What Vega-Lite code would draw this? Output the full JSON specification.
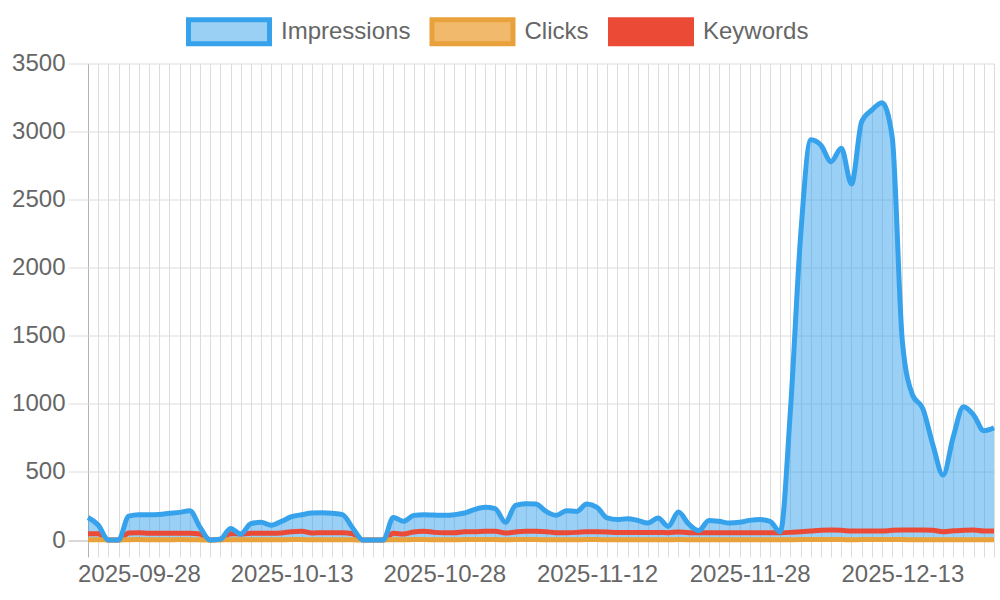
{
  "$schema": "https://vega.github.io/schema/vega-lite/v6.json",
  "width": 906,
  "height": 476.5,
  "autosize": {"type": "none"},
  "padding": {"left": 88, "top": 63.5, "right": 6, "bottom": 60},
  "background": "white",
  "config": {
    "view": {"stroke": null},
    "font": "Liberation Sans"
  },
  "data": {
    "values": [
      {"date": "2025-09-23", "Impressions": 165, "Clicks": 2, "Keywords": 46},
      {"date": "2025-09-24", "Impressions": 110, "Clicks": 2, "Keywords": 46},
      {"date": "2025-09-25", "Impressions": 0, "Clicks": 0, "Keywords": 0},
      {"date": "2025-09-26", "Impressions": 0, "Clicks": 0, "Keywords": 0},
      {"date": "2025-09-27", "Impressions": 175, "Clicks": 2, "Keywords": 51},
      {"date": "2025-09-28", "Impressions": 186, "Clicks": 3, "Keywords": 54},
      {"date": "2025-09-29", "Impressions": 186, "Clicks": 2, "Keywords": 49},
      {"date": "2025-09-30", "Impressions": 188, "Clicks": 2, "Keywords": 49},
      {"date": "2025-10-01", "Impressions": 196, "Clicks": 2, "Keywords": 49},
      {"date": "2025-10-02", "Impressions": 203, "Clicks": 3, "Keywords": 49},
      {"date": "2025-10-03", "Impressions": 215, "Clicks": 2, "Keywords": 49},
      {"date": "2025-10-04", "Impressions": 95, "Clicks": 1, "Keywords": 44},
      {"date": "2025-10-05", "Impressions": 0, "Clicks": 0, "Keywords": 0},
      {"date": "2025-10-06", "Impressions": 5, "Clicks": 0, "Keywords": 5},
      {"date": "2025-10-07", "Impressions": 85, "Clicks": 2, "Keywords": 46},
      {"date": "2025-10-08", "Impressions": 44, "Clicks": 1, "Keywords": 44},
      {"date": "2025-10-09", "Impressions": 120, "Clicks": 2, "Keywords": 49},
      {"date": "2025-10-10", "Impressions": 130, "Clicks": 2, "Keywords": 49},
      {"date": "2025-10-11", "Impressions": 108, "Clicks": 2, "Keywords": 49},
      {"date": "2025-10-12", "Impressions": 137, "Clicks": 2, "Keywords": 52},
      {"date": "2025-10-13", "Impressions": 171, "Clicks": 3, "Keywords": 61},
      {"date": "2025-10-14", "Impressions": 186, "Clicks": 3, "Keywords": 64},
      {"date": "2025-10-15", "Impressions": 198, "Clicks": 2, "Keywords": 51},
      {"date": "2025-10-16", "Impressions": 200, "Clicks": 2, "Keywords": 54},
      {"date": "2025-10-17", "Impressions": 196, "Clicks": 2, "Keywords": 54},
      {"date": "2025-10-18", "Impressions": 186, "Clicks": 2, "Keywords": 54},
      {"date": "2025-10-19", "Impressions": 88, "Clicks": 1, "Keywords": 46},
      {"date": "2025-10-20", "Impressions": 0, "Clicks": 0, "Keywords": 0},
      {"date": "2025-10-21", "Impressions": 0, "Clicks": 0, "Keywords": 0},
      {"date": "2025-10-22", "Impressions": 0, "Clicks": 0, "Keywords": 0},
      {"date": "2025-10-23", "Impressions": 166, "Clicks": 2, "Keywords": 49},
      {"date": "2025-10-24", "Impressions": 137, "Clicks": 2, "Keywords": 44},
      {"date": "2025-10-25", "Impressions": 181, "Clicks": 3, "Keywords": 59},
      {"date": "2025-10-26", "Impressions": 186, "Clicks": 3, "Keywords": 64},
      {"date": "2025-10-27", "Impressions": 183, "Clicks": 2, "Keywords": 56},
      {"date": "2025-10-28", "Impressions": 181, "Clicks": 2, "Keywords": 54},
      {"date": "2025-10-29", "Impressions": 186, "Clicks": 2, "Keywords": 54},
      {"date": "2025-10-30", "Impressions": 198, "Clicks": 3, "Keywords": 61},
      {"date": "2025-10-31", "Impressions": 225, "Clicks": 3, "Keywords": 61},
      {"date": "2025-11-01", "Impressions": 240, "Clicks": 3, "Keywords": 64},
      {"date": "2025-11-02", "Impressions": 230, "Clicks": 3, "Keywords": 64},
      {"date": "2025-11-03", "Impressions": 130, "Clicks": 2, "Keywords": 51},
      {"date": "2025-11-04", "Impressions": 255, "Clicks": 3, "Keywords": 59},
      {"date": "2025-11-05", "Impressions": 267, "Clicks": 3, "Keywords": 64},
      {"date": "2025-11-06", "Impressions": 264, "Clicks": 3, "Keywords": 64},
      {"date": "2025-11-07", "Impressions": 210, "Clicks": 2, "Keywords": 61},
      {"date": "2025-11-08", "Impressions": 181, "Clicks": 2, "Keywords": 54},
      {"date": "2025-11-09", "Impressions": 215, "Clicks": 2, "Keywords": 54},
      {"date": "2025-11-10", "Impressions": 210, "Clicks": 2, "Keywords": 56},
      {"date": "2025-11-11", "Impressions": 264, "Clicks": 3, "Keywords": 61},
      {"date": "2025-11-12", "Impressions": 240, "Clicks": 3, "Keywords": 61},
      {"date": "2025-11-13", "Impressions": 162, "Clicks": 2, "Keywords": 59},
      {"date": "2025-11-14", "Impressions": 150, "Clicks": 2, "Keywords": 56},
      {"date": "2025-11-15", "Impressions": 157, "Clicks": 2, "Keywords": 56},
      {"date": "2025-11-16", "Impressions": 144, "Clicks": 2, "Keywords": 56},
      {"date": "2025-11-17", "Impressions": 125, "Clicks": 2, "Keywords": 56},
      {"date": "2025-11-18", "Impressions": 162, "Clicks": 2, "Keywords": 56},
      {"date": "2025-11-19", "Impressions": 100, "Clicks": 2, "Keywords": 54},
      {"date": "2025-11-21", "Impressions": 205, "Clicks": 3, "Keywords": 59},
      {"date": "2025-11-22", "Impressions": 118, "Clicks": 2, "Keywords": 54},
      {"date": "2025-11-23", "Impressions": 69, "Clicks": 1, "Keywords": 54},
      {"date": "2025-11-24", "Impressions": 144, "Clicks": 2, "Keywords": 54},
      {"date": "2025-11-25", "Impressions": 137, "Clicks": 2, "Keywords": 54},
      {"date": "2025-11-26", "Impressions": 125, "Clicks": 2, "Keywords": 54},
      {"date": "2025-11-27", "Impressions": 130, "Clicks": 2, "Keywords": 54},
      {"date": "2025-11-28", "Impressions": 144, "Clicks": 2, "Keywords": 54},
      {"date": "2025-11-29", "Impressions": 150, "Clicks": 2, "Keywords": 54},
      {"date": "2025-11-30", "Impressions": 137, "Clicks": 2, "Keywords": 54},
      {"date": "2025-12-01", "Impressions": 59, "Clicks": 1, "Keywords": 54},
      {"date": "2025-12-02", "Impressions": 950, "Clicks": 2, "Keywords": 56},
      {"date": "2025-12-03", "Impressions": 2230, "Clicks": 3, "Keywords": 61},
      {"date": "2025-12-04", "Impressions": 2940, "Clicks": 3, "Keywords": 66},
      {"date": "2025-12-05", "Impressions": 2900, "Clicks": 3, "Keywords": 71},
      {"date": "2025-12-06", "Impressions": 2779, "Clicks": 3, "Keywords": 73},
      {"date": "2025-12-07", "Impressions": 2877, "Clicks": 3, "Keywords": 71},
      {"date": "2025-12-08", "Impressions": 2615, "Clicks": 2, "Keywords": 66},
      {"date": "2025-12-09", "Impressions": 3073, "Clicks": 3, "Keywords": 66},
      {"date": "2025-12-10", "Impressions": 3158, "Clicks": 3, "Keywords": 66},
      {"date": "2025-12-11", "Impressions": 3212, "Clicks": 3, "Keywords": 66},
      {"date": "2025-12-12", "Impressions": 2960, "Clicks": 3, "Keywords": 71},
      {"date": "2025-12-13", "Impressions": 1457, "Clicks": 3, "Keywords": 73},
      {"date": "2025-12-14", "Impressions": 1065, "Clicks": 2, "Keywords": 73},
      {"date": "2025-12-15", "Impressions": 967, "Clicks": 2, "Keywords": 73},
      {"date": "2025-12-16", "Impressions": 698, "Clicks": 2, "Keywords": 71},
      {"date": "2025-12-17", "Impressions": 477, "Clicks": 1, "Keywords": 61},
      {"date": "2025-12-18", "Impressions": 759, "Clicks": 2, "Keywords": 68},
      {"date": "2025-12-19", "Impressions": 979, "Clicks": 2, "Keywords": 71},
      {"date": "2025-12-20", "Impressions": 918, "Clicks": 2, "Keywords": 73},
      {"date": "2025-12-21", "Impressions": 803, "Clicks": 2, "Keywords": 66},
      {"date": "2025-12-22", "Impressions": 825, "Clicks": 2, "Keywords": 66}
    ]
  },
  "transform": [
    {"fold": ["Impressions", "Clicks", "Keywords"], "as": ["series", "value"]}
  ],
  "encoding": {
    "x": {
      "field": "date",
      "type": "ordinal",
      "sort": null,
      "scale": {"padding": 0},
      "title": null,
      "axis": {
        "grid": true,
        "gridColor": {"condition": {"test": "datum.index === 0", "value": "#b3b3b3"}, "value": "#dcdcdc"},
        "gridWidth": 1,
        "domain": false,
        "ticks": true,
        "tickSize": 17,
        "tickWidth": 1,
        "tickColor": {"condition": {"test": "datum.index === 0", "value": "#b3b3b3"}, "value": "#dcdcdc"},
        "labelAngle": 0,
        "labelOverlap": false,
        "labelFontSize": 24,
        "labelFont": "Liberation Sans",
        "labelColor": "#666666",
        "labelPadding": 5,
        "labelExpr": "indexof(['2025-09-28','2025-10-13','2025-10-28','2025-11-12','2025-11-28','2025-12-13'], datum.value) >= 0 ? datum.value : ''"
      }
    },
    "y": {
      "field": "value",
      "type": "quantitative",
      "scale": {"domain": [0, 3500], "nice": false},
      "title": null,
      "axis": {
        "values": [0, 500, 1000, 1500, 2000, 2500, 3000, 3500],
        "format": "d",
        "grid": true,
        "gridColor": {"condition": {"test": "datum.value === 0", "value": "#b3b3b3"}, "value": "#dcdcdc"},
        "domain": false,
        "tickSize": 20,
        "tickColor": {"condition": {"test": "datum.value === 0", "value": "#b3b3b3"}, "value": "#dcdcdc"},
        "labelFontSize": 24,
        "labelFont": "Liberation Sans",
        "labelColor": "#666666",
        "labelPadding": 3
      }
    }
  },
  "layer": [
    {
      "transform": [{"filter": "datum.series === 'Impressions'"}],
      "mark": {"type": "area", "interpolate": "monotone", "color": "#36a2eb", "fillOpacity": 0.5}
    },
    {
      "transform": [{"filter": "datum.series === 'Keywords'"}],
      "mark": {"type": "line", "interpolate": "monotone", "strokeWidth": 5},
      "encoding": {
        "color": {"field": "series", "type": "nominal", "scale": {"domain": ["Impressions", "Clicks", "Keywords"], "range": ["#36a2eb", "#e9a23b", "#ea4a36"]}}
      }
    },
    {
      "transform": [{"filter": "datum.series === 'Clicks'"}],
      "mark": {"type": "line", "interpolate": "monotone", "strokeWidth": 5},
      "encoding": {
        "color": {"field": "series", "type": "nominal", "scale": {"domain": ["Impressions", "Clicks", "Keywords"], "range": ["#36a2eb", "#e9a23b", "#ea4a36"]}}
      }
    },
    {
      "transform": [{"filter": "datum.series === 'Impressions'"}],
      "mark": {"type": "line", "interpolate": "monotone", "strokeWidth": 5},
      "encoding": {
        "color": {
          "field": "series",
          "type": "nominal",
          "scale": {"domain": ["Impressions", "Clicks", "Keywords"], "range": ["#36a2eb", "#e9a23b", "#ea4a36"]},
          "legend": {
            "title": null,
            "orient": "none",
            "direction": "horizontal",
            "legendX": 126.5,
            "legendY": -46.5,
            "padding": 0,
            "symbolType": "M-3.375,-1H3.375V1H-3.375Z",
            "symbolSize": 576,
            "symbolStrokeWidth": 5,
            "labelOffset": 37.5,
            "columnPadding": 11.5,
            "labelFontSize": 24,
            "labelFont": "Liberation Sans",
            "labelColor": "#666666",
            "labelLimit": 300,
            "encode": {
              "symbols": {
                "update": {
                  "fill": {"signal": "datum.value === 'Impressions' ? '#9bd0f5' : datum.value === 'Clicks' ? '#f0b96b' : '#ea4a36'"},
                  "fillOpacity": {"value": 1},
                  "stroke": {"signal": "datum.value === 'Impressions' ? '#36a2eb' : datum.value === 'Clicks' ? '#e9a23b' : '#ea4a36'"},
                  "strokeWidth": {"value": 5},
                  "opacity": {"value": 1}
                }
              }
            }
          }
        }
      }
    }
  ]
}
